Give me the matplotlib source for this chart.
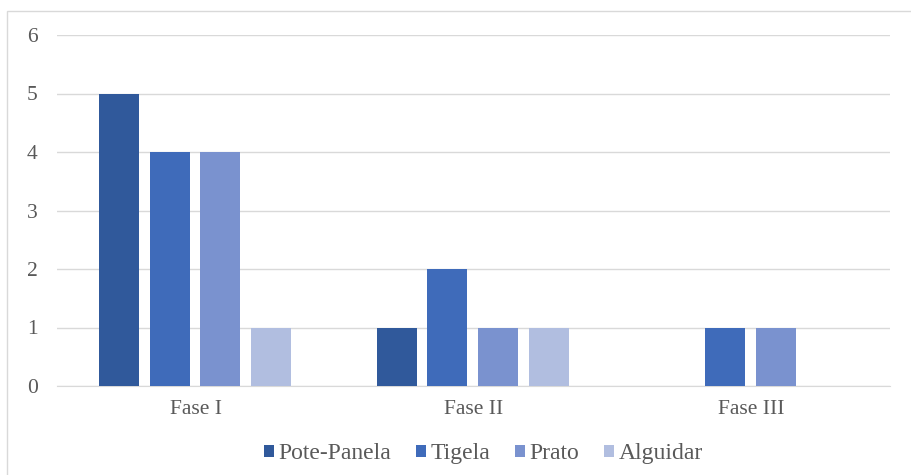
import numpy as np
import matplotlib
matplotlib.use('Agg')
import matplotlib.pyplot as plt
from matplotlib.patches import Rectangle

# ============== data ===================
fases = ['Fase I', 'Fase II', 'Fase III']
series = ['Pote-Panela', 'Tigela', 'Prato', 'Alguidar']
pote_panela = [5, 1, 0]
tigela = [4, 2, 1]
prato = [4, 1, 1]
alguidar = [1, 1, 0]
values = [pote_panela, tigela, prato, alguidar]
colors = ['#30599B', '#3F6BBA', '#7A92CF', '#B1BEE0']

plt.rcParams['font.family'] = ['Liberation Serif', 'DejaVu Serif']

fig = plt.figure(figsize=(9.12, 4.75), dpi=100)
ax = fig.add_axes([57/912, 1-386/475, 833/912, 351/475])

x = np.arange(len(fases))
pitch = 0.1826
width = 0.144
for i, (name, vals) in enumerate(zip(series, values)):
    ax.bar(x + (i - 1.5)*pitch - 0.003, vals, width, color=colors[i], label=name, zorder=3)

ax.set_xlim(-0.5, 2.5)
ax.set_ylim(0, 6)
ax.set_yticks(range(7))
ax.grid(axis='y', color='#D9D9D9', linewidth=1, zorder=0)
for s in ax.spines.values():
    s.set_visible(False)
ax.spines['bottom'].set_visible(True)
ax.spines['bottom'].set_color('#D9D9D9')
ax.tick_params(length=0, labelsize=15.5, labelcolor='#595959')
ax.tick_params(axis='y', pad=14)
ax.tick_params(axis='x', pad=10)
ax.set_xticks(x)
ax.set_xticklabels(fases)

leg = ax.legend(loc='upper center', bbox_to_anchor=(0.512, -0.102), ncol=4,
                frameon=False, fontsize=17, handlelength=0.42, handleheight=0.42,
                handletextpad=0.2, columnspacing=1.05, labelcolor='#595959')

# chart border
fig.patches.append(Rectangle((7/912, -0.01), 1.0, 1-11/475+0.01,
                             transform=fig.transFigure, fill=False,
                             edgecolor='#D9D9D9', linewidth=1))

fig.savefig('out.png', dpi=100)
